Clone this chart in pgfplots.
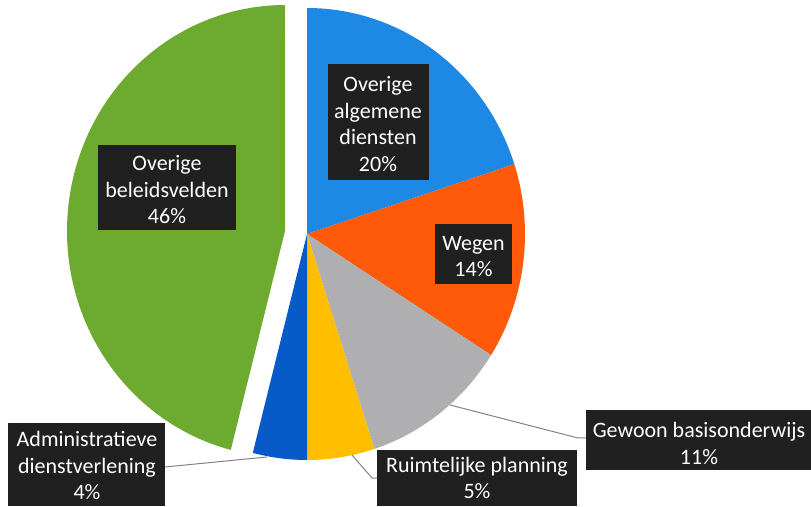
\documentclass[border=0pt]{standalone}
\usepackage{pgfplots}
\pgfplotsset{compat=1.18}
\usepackage{fontspec}
\setmainfont{Carlito}
\definecolor{cA}{RGB}{30,136,229}
\definecolor{cB}{RGB}{255,90,10}
\definecolor{cC}{RGB}{175,175,178}
\definecolor{cD}{RGB}{255,190,0}
\definecolor{cE}{RGB}{8,90,200}
\definecolor{cF}{RGB}{108,170,48}
\definecolor{lbl}{RGB}{32,32,32}
\definecolor{lead}{RGB}{130,130,130}
\begin{document}
\begin{tikzpicture}
\begin{axis}[width=811pt,height=506pt,scale only axis,xmin=0,xmax=811,ymin=0,ymax=506,hide axis,clip=false]
% shares (%): 20, 14, 11, 5, 4, 46 ; cumulative angles = 3.6 * cumulative %
\addplot[fill=cA,draw=none,domain=0:72,samples=60,variable=\t] ({307+218*sin(t)},{272+226*cos(t)}) -- (307,272) -- cycle;
\addplot[fill=cB,draw=none,domain=72:122.4,samples=50,variable=\t] ({307+218*sin(t)},{272+226*cos(t)}) -- (307,272) -- cycle;
\addplot[fill=cC,draw=none,domain=122.4:162,samples=40,variable=\t] ({307+218*sin(t)},{272+226*cos(t)}) -- (307,272) -- cycle;
\addplot[fill=cD,draw=none,domain=162:180,samples=20,variable=\t] ({307+218*sin(t)},{272+226*cos(t)}) -- (307,272) -- cycle;
\addplot[fill=cE,draw=none,domain=180:194.4,samples=20,variable=\t] ({307+218*sin(t)},{272+226*cos(t)}) -- (307,272) -- cycle;
\addplot[fill=cF,draw=none,domain=194.4:360,samples=120,variable=\t] ({285+218*sin(t)},{275+226*cos(t)}) -- (285,275) -- cycle;
% leader lines
\addplot[lead,line width=1pt] coordinates {(165,39) (267,49)};
\addplot[lead,line width=1pt] coordinates {(352,51) (372,28) (377,28)};
\addplot[lead,line width=1pt] coordinates {(450,101) (578,68) (586,68)};
% label boxes
\tikzset{box/.style={fill=lbl,draw=none,inner sep=0pt,rectangle},
         txt/.style={text=white,align=center,inner sep=0pt,font=\fontsize{22}{26.5}\selectfont}}
\node[box,minimum width=101pt,minimum height=116pt] at (378,384) {};
\node[txt] at (378,382) {Overige\\algemene\\diensten\\20\%};
\node[box,minimum width=77pt,minimum height=60pt] at (473.5,252) {};
\node[txt] at (473.5,249.5) {Wegen\\14\%};
\node[box,minimum width=138pt,minimum height=85pt] at (167,318.5) {};
\node[txt] at (167,316) {Overige\\beleidsvelden\\46\%};
\node[box,minimum width=225pt,minimum height=60pt] at (698.5,66) {};
\node[txt] at (699,62.5) {Gewoon basisonderwijs\\11\%};
\node[box,minimum width=200pt,minimum height=56pt] at (477,28) {};
\node[txt] at (477,28) {Ruimtelijke planning\\5\%};
\node[box,minimum width=157pt,minimum height=83pt] at (86.5,41.5) {};
\node[txt] at (87,40.5) {Administratieve\\dienstverlening\\4\%};
\end{axis}
\pgfresetboundingbox
\path (current axis.south west) rectangle (current axis.north east);
\end{tikzpicture}
\end{document}
